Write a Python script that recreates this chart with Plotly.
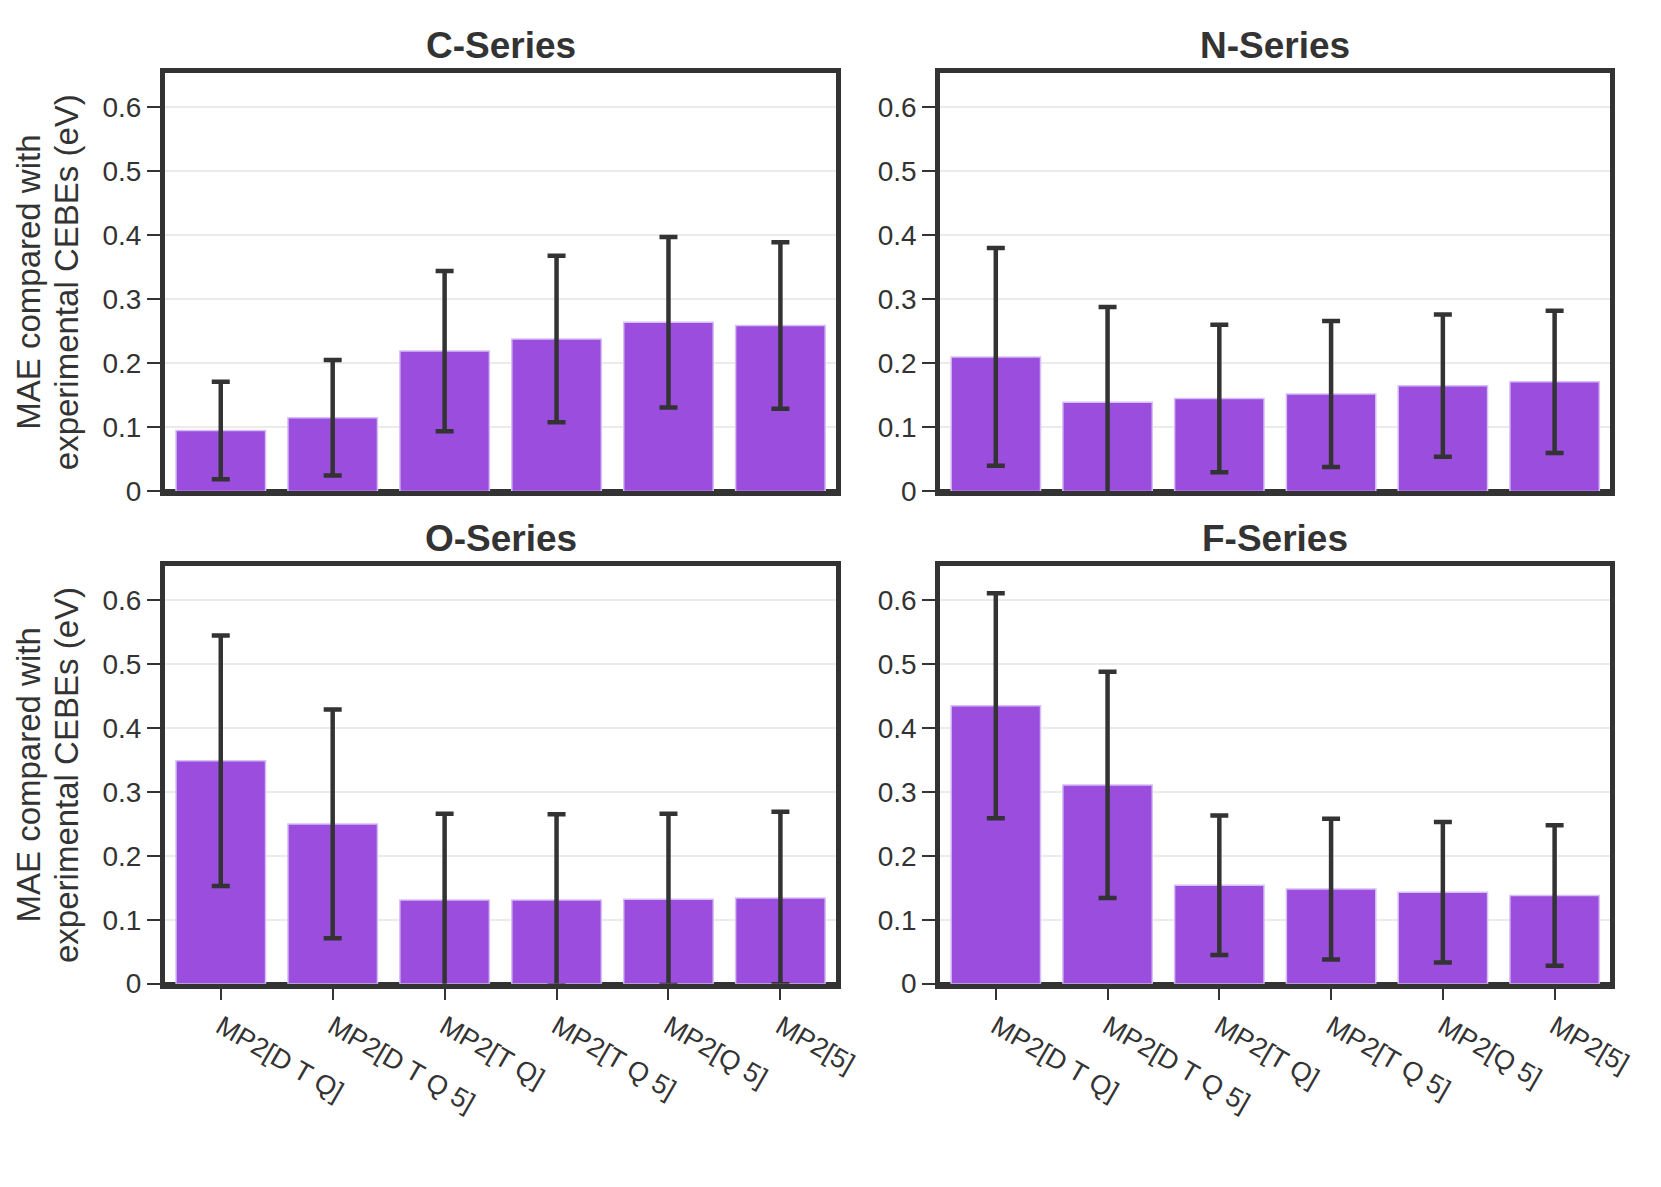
import plotly.graph_objects as go

categories = ["MP2[D T Q]", "MP2[D T Q 5]", "MP2[T Q]", "MP2[T Q 5]", "MP2[Q 5]", "MP2[5]"]
panel_titles = ["C-Series", "N-Series", "O-Series", "F-Series"]

C_mae = [0.095, 0.115, 0.219, 0.238, 0.264, 0.259]
C_err = [0.076, 0.090, 0.125, 0.130, 0.133, 0.130]
N_mae = [0.210, 0.139, 0.145, 0.152, 0.165, 0.171]
N_err = [0.170, 0.149, 0.115, 0.114, 0.111, 0.111]
O_mae = [0.349, 0.250, 0.131, 0.131, 0.132, 0.134]
O_err = [0.196, 0.179, 0.135, 0.134, 0.134, 0.135]
F_mae = [0.435, 0.311, 0.154, 0.148, 0.143, 0.138]
F_err = [0.176, 0.177, 0.109, 0.110, 0.110, 0.110]

y_tickvals = [0, 0.1, 0.2, 0.3, 0.4, 0.5, 0.6]
y_title_lines = ["MAE compared with", "experimental CEBEs (eV)"]

W, H = 1661, 1187
BAR = "#9B4DDE"
DARK = "#333333"
FONT = "Liberation Sans, Arial, sans-serif"

series = [(C_mae, C_err), (N_mae, N_err), (O_mae, O_err), (F_mae, F_err)]
xdom = [[159 / W, 840 / W], [945 / W, 1625 / W]]
ydom = [[1 - 490 / H, 1 - 66 / H], [1 - 989 / H, 1 - 566 / H]]

fig = go.Figure()
layout = {}
annotations = []
for i, (vals, errs) in enumerate(series):
    r, c = divmod(i, 2)
    n = i + 1
    xa = "x" if n == 1 else f"x{n}"
    ya = "y" if n == 1 else f"y{n}"
    fig.add_trace(go.Bar(
        x=categories, y=vals, xaxis=xa, yaxis=ya,
        marker=dict(color=BAR, line=dict(color="#D6BFF4", width=1.5)),
        error_y=dict(type="data", array=errs, symmetric=True, color=DARK,
                     thickness=4.5, width=9),
        showlegend=False,
    ))
    bottom = r == 1
    layout[f"xaxis{'' if n == 1 else n}"] = dict(
        domain=xdom[c], anchor=ya, type="category", range=[-0.5, 5.5],
        showline=True, mirror=True, linewidth=4.5, linecolor=DARK,
        showgrid=False, zeroline=False,
        ticks="outside" if bottom else "", ticklen=12, tickwidth=2, tickcolor=DARK,
        showticklabels=bottom, tickangle=30,
        tickfont=dict(family=FONT, size=27, color=DARK),
    )
    layout[f"yaxis{'' if n == 1 else n}"] = dict(
        domain=ydom[r], anchor=xa, range=[0, 0.653],
        tickvals=y_tickvals,
        showline=True, mirror=True, linewidth=4.5, linecolor=DARK,
        showgrid=True, gridcolor="#EBEBEB", gridwidth=2,
        zeroline=True, zerolinecolor=DARK, zerolinewidth=4,
        ticks="outside", ticklen=13, tickwidth=2, tickcolor=DARK,
        tickfont=dict(family=FONT, size=28, color=DARK),
    )
    annotations.append(dict(
        text=f"<b>{panel_titles[i]}</b>", xref="paper", yref="paper",
        x=sum(xdom[c]) / 2, y=ydom[r][1] + 28 / H, xanchor="center", yanchor="middle",
        showarrow=False, font=dict(family=FONT, size=37, color=DARK),
    ))

for r in range(2):
    for k, line in enumerate(y_title_lines):
        annotations.append(dict(
            text=line, xref="paper", yref="paper",
            x=(1 + 38 * k) / W, y=sum(ydom[r]) / 2, xanchor="left", yanchor="middle",
            textangle=-90, showarrow=False, borderpad=0,
            font=dict(family=FONT, size=33, color=DARK),
        ))

fig.update_layout(
    width=W, height=H,
    margin=dict(l=0, r=0, t=0, b=0),
    paper_bgcolor="white", plot_bgcolor="white",
    bargap=0.2,
    annotations=annotations,
    **layout,
)

fig.write_html("out.html")
